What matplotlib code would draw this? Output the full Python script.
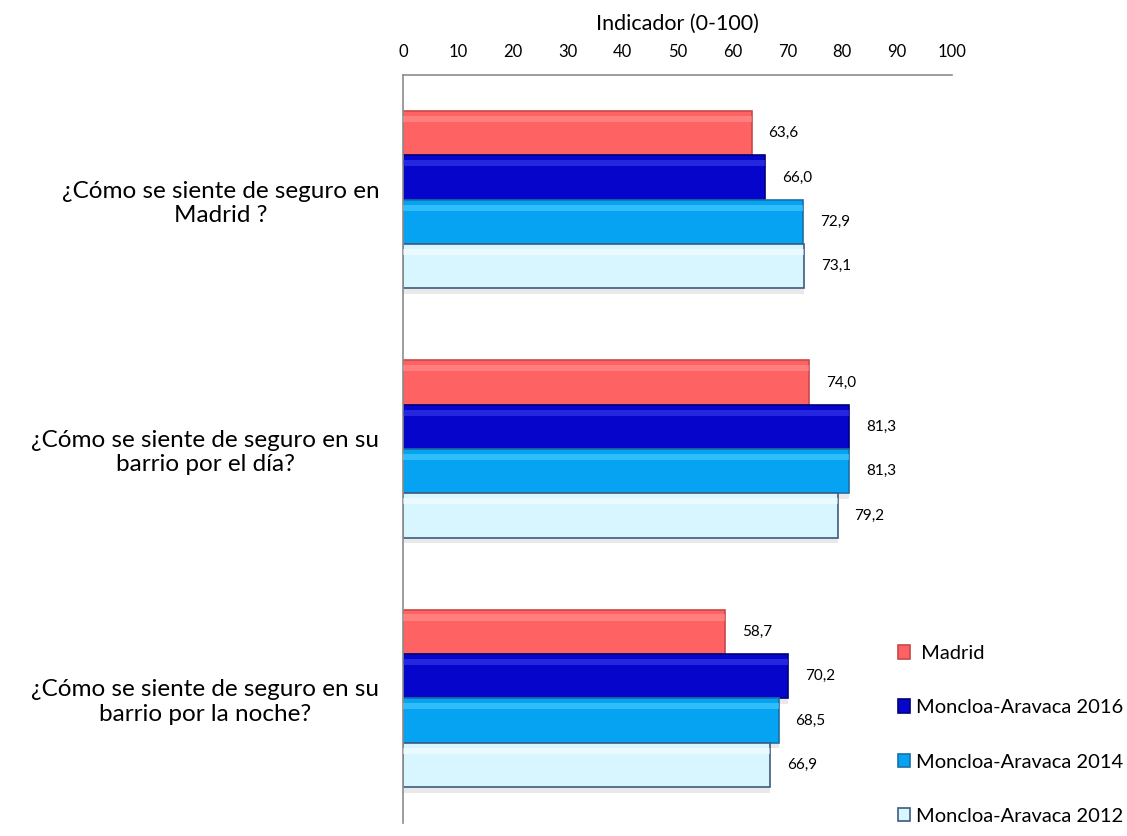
import matplotlib.pyplot as plt
import numpy as np

plt.rcParams['font.family'] = ['Lato', 'DejaVu Sans']

# datos
preguntas = ['¿Cómo se siente de seguro en\nMadrid ?',
             '¿Cómo se siente de seguro en su\nbarrio por el día?',
             '¿Cómo se siente de seguro en su\nbarrio por la noche?']
series = [' Madrid', 'Moncloa-Aravaca 2016', 'Moncloa-Aravaca 2014', 'Moncloa-Aravaca 2012']
madrid = [63.6, 74.0, 58.7]
mon_2016 = [66.0, 81.3, 70.2]
mon_2014 = [72.9, 81.3, 68.5]
mon_2012 = [73.1, 79.2, 66.9]
valores = [madrid, mon_2016, mon_2014, mon_2012]

colores = ['#FF6262', '#0505CC', '#06A3F3', '#D8F6FF']
bordes = ['#C84848', '#00007A', '#1A6FA8', '#3C5C82']
brillos = ['#FF9A9A', '#4848F0', '#5CD8FF', '#FFFFFF']

fig = plt.figure(figsize=(11.27, 8.36), dpi=100)
ax = fig.add_axes([0.3576, 0.0155, 0.4871, 0.8948])

y = np.arange(len(preguntas))
h = 0.178
for i, (nom, vals) in enumerate(zip(series, valores)):
    pos = y - 1.5 * h + i * h
    # sombra
    ax.barh(pos + 0.022, vals, height=h, color='#E9E9E9', linewidth=0, zorder=1)
    ax.barh(pos, vals, height=h, color=colores[i], edgecolor=bordes[i],
            linewidth=1.2, label=nom, zorder=2)
    # brillo superior
    ax.barh(pos - h * 0.32, vals, height=h * 0.14, color=brillos[i],
            linewidth=0, alpha=0.5, zorder=3)
    for p, v in zip(pos, vals):
        ax.text(v + 3.0, p, f'{v:.1f}'.replace('.', ','), va='center',
                ha='left', fontsize=11)

ax.set_xlim(0, 100)
ax.set_ylim(2.5, -0.5)
ax.set_xticks(range(0, 101, 10))
ax.xaxis.tick_top()
ax.xaxis.set_label_position('top')
ax.set_xlabel('Indicador (0-100)', fontsize=15.5, labelpad=10)
ax.tick_params(axis='x', length=0, labelsize=12, pad=11)
ax.set_yticks(y)
ax.set_yticklabels(preguntas, fontsize=17.5, multialignment='center')
ax.tick_params(axis='y', length=0, pad=17)

for s in ['right', 'bottom']:
    ax.spines[s].set_visible(False)
for s in ['top', 'left']:
    ax.spines[s].set_color('#8C8C8C')
    ax.spines[s].set_linewidth(1.2)

fig.legend(loc='upper left', bbox_to_anchor=(898 / 1127, 1 - 645 / 836),
           frameon=False, fontsize=14.5, handlelength=0.6, handleheight=0.65,
           handletextpad=0.3, labelspacing=1.85, borderaxespad=0,
           borderpad=0)

fig.savefig('out.png', dpi=100)
